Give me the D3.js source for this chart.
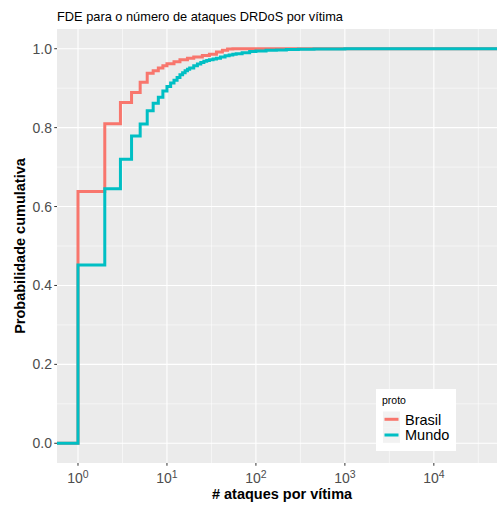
<!DOCTYPE html>
<html>
<head>
<meta charset="utf-8">
<script src="https://cdn.jsdelivr.net/npm/d3@7"></script>
<style>
  body { margin: 0; background: #fff; }
  svg { display: block; font-family: "Liberation Sans", Arial, sans-serif; }
</style>
</head>
<body>
<div id="chart"></div>
<script>
// ECDF steps (x = ataques por vítima, y = probabilidade cumulativa)
const brasilX = [1, 2, 3, 4, 5, 6, 7, 8, 9, 10, 12, 14, 17, 20, 25, 30, 36, 42, 48, 55];
const brasilY = [0.638, 0.810, 0.864, 0.889, 0.915, 0.938, 0.944, 0.951, 0.957, 0.962,
                 0.967, 0.972, 0.976, 0.979, 0.983, 0.986, 0.992, 0.996, 0.999, 1.0];

const mundoX = [1, 2, 3, 4, 5, 6, 7, 8, 9, 10, 11, 12, 13, 14, 15, 16, 17, 18, 20, 22,
                24, 26, 28, 30, 33, 36, 40, 45, 50, 55, 60, 70, 85, 100, 130, 170, 220,
                300, 450, 700, 1000];
const mundoY = [0.452, 0.645, 0.720, 0.779, 0.809, 0.843, 0.862, 0.877, 0.893, 0.904,
                0.913, 0.920, 0.927, 0.934, 0.939, 0.944, 0.948, 0.951, 0.957, 0.961,
                0.965, 0.968, 0.970, 0.972, 0.974, 0.976, 0.979, 0.982, 0.984, 0.986,
                0.987, 0.990, 0.993, 0.994, 0.996, 0.997, 0.998, 0.9985, 0.999, 0.9995,
                1.0];

const seriesNames = ["Brasil", "Mundo"];
const seriesColors = ["#F8766D", "#00BFC4"];
const yTicks = [0, 0.2, 0.4, 0.6, 0.8, 1.0];
const xTickPowers = [0, 1, 2, 3, 4];

const width = 497, height = 505;
const panel = { left: 57, right: 497, top: 29, bottom: 463 };

const svg = d3.select("#chart").append("svg")
    .attr("width", width)
    .attr("height", height);

const x = d3.scaleLog()
    .domain([Math.pow(10, -0.236), Math.pow(10, 4.71)])
    .range([panel.left, panel.right]);

const y = d3.scaleLinear()
    .domain([-0.05, 1.05])
    .range([panel.bottom, panel.top]);

// panel background
svg.append("rect")
    .attr("x", panel.left).attr("y", panel.top)
    .attr("width", panel.right - panel.left)
    .attr("height", panel.bottom - panel.top)
    .attr("fill", "#EBEBEB");

// minor grid
const yMinor = [0.1, 0.3, 0.5, 0.7, 0.9];
const xMinor = [0.5, 1.5, 2.5, 3.5, 4.5].map(p => Math.pow(10, p));
svg.selectAll(".ymin").data(yMinor).enter().append("line")
    .attr("x1", panel.left).attr("x2", panel.right)
    .attr("y1", d => y(d)).attr("y2", d => y(d))
    .attr("stroke", "#fff").attr("stroke-width", 0.55);
svg.selectAll(".xmin").data(xMinor).enter().append("line")
    .attr("y1", panel.top).attr("y2", panel.bottom)
    .attr("x1", d => x(d)).attr("x2", d => x(d))
    .attr("stroke", "#fff").attr("stroke-width", 0.55);

// major grid
svg.selectAll(".ymaj").data(yTicks).enter().append("line")
    .attr("x1", panel.left).attr("x2", panel.right)
    .attr("y1", d => y(d)).attr("y2", d => y(d))
    .attr("stroke", "#fff").attr("stroke-width", 1.1);
svg.selectAll(".xmaj").data(xTickPowers).enter().append("line")
    .attr("y1", panel.top).attr("y2", panel.bottom)
    .attr("x1", d => x(Math.pow(10, d))).attr("x2", d => x(Math.pow(10, d)))
    .attr("stroke", "#fff").attr("stroke-width", 1.1);

// clip
svg.append("clipPath").attr("id", "clip").append("rect")
    .attr("x", panel.left).attr("y", panel.top)
    .attr("width", panel.right - panel.left)
    .attr("height", panel.bottom - panel.top);

const line = d3.line()
    .x(d => x(d[0]))
    .y(d => y(d[1]))
    .curve(d3.curveStepAfter);

const xLo = x.domain()[0], xHi = x.domain()[1];
const series = [
    [[xLo, 0]].concat(brasilX.map((v, i) => [v, brasilY[i]]), [[xHi, 1]]),
    [[xLo, 0]].concat(mundoX.map((v, i) => [v, mundoY[i]]), [[xHi, 1]])
];

svg.append("g").attr("clip-path", "url(#clip)")
    .selectAll("path").data(series).enter().append("path")
    .attr("d", line)
    .attr("fill", "none")
    .attr("stroke", (d, i) => seriesColors[i])
    .attr("stroke-width", 3);

// y axis
svg.selectAll(".ytick").data(yTicks).enter().append("line")
    .attr("x1", panel.left - 2.75).attr("x2", panel.left)
    .attr("y1", d => y(d)).attr("y2", d => y(d))
    .attr("stroke", "#333").attr("stroke-width", 1);
svg.selectAll(".ylab").data(yTicks).enter().append("text")
    .attr("x", panel.left - 5)
    .attr("y", d => y(d))
    .attr("dy", "0.36em")
    .attr("text-anchor", "end")
    .attr("font-size", 14)
    .attr("fill", "#4D4D4D")
    .text(d => d.toFixed(1));

// x axis
svg.selectAll(".xtick").data(xTickPowers).enter().append("line")
    .attr("y1", panel.bottom).attr("y2", panel.bottom + 2.75)
    .attr("x1", d => x(Math.pow(10, d))).attr("x2", d => x(Math.pow(10, d)))
    .attr("stroke", "#333").attr("stroke-width", 1);
const xl = svg.selectAll(".xlab").data(xTickPowers).enter().append("text")
    .attr("x", d => x(Math.pow(10, d)))
    .attr("y", 483.3)
    .attr("text-anchor", "middle")
    .attr("font-size", 14)
    .attr("fill", "#4D4D4D");
xl.append("tspan").text("10");
xl.append("tspan").attr("dy", -5.8).attr("font-size", 10.5).text(d => d);

// titles
svg.append("text")
    .attr("x", panel.left).attr("y", 20.5)
    .attr("font-size", 12.8)
    .attr("fill", "#000")
    .text("FDE para o número de ataques DRDoS por vítima");

svg.append("text")
    .attr("x", 282).attr("y", 499)
    .attr("text-anchor", "middle")
    .attr("font-size", 14.5)
    .attr("font-weight", "bold")
    .text("# ataques por vítima");

svg.append("text")
    .attr("transform", "translate(25," + (panel.top + panel.bottom) / 2 + ") rotate(-90)")
    .attr("text-anchor", "middle")
    .attr("font-size", 14.5)
    .attr("font-weight", "bold")
    .text("Probabilidade cumulativa");

// legend
const lg = svg.append("g");
lg.append("rect")
    .attr("x", 376).attr("y", 389)
    .attr("width", 80).attr("height", 62)
    .attr("fill", "#fff");
lg.append("text")
    .attr("x", 382).attr("y", 404)
    .attr("font-size", 10.5)
    .text("proto");
const keyY = [419.3, 435];
const items = lg.selectAll(".item").data(seriesNames).enter().append("g");
items.append("rect")
    .attr("x", 383).attr("y", (d, i) => keyY[i] - 7.8)
    .attr("width", 17).attr("height", 15.6)
    .attr("fill", "#F2F2F2");
items.append("line")
    .attr("x1", 384.5).attr("x2", 398.5)
    .attr("y1", (d, i) => keyY[i]).attr("y2", (d, i) => keyY[i])
    .attr("stroke", (d, i) => seriesColors[i])
    .attr("stroke-width", 3);
items.append("text")
    .attr("x", 405).attr("y", (d, i) => keyY[i])
    .attr("dy", "0.36em")
    .attr("font-size", 14.5)
    .text(d => d);
</script>
</body>
</html>
